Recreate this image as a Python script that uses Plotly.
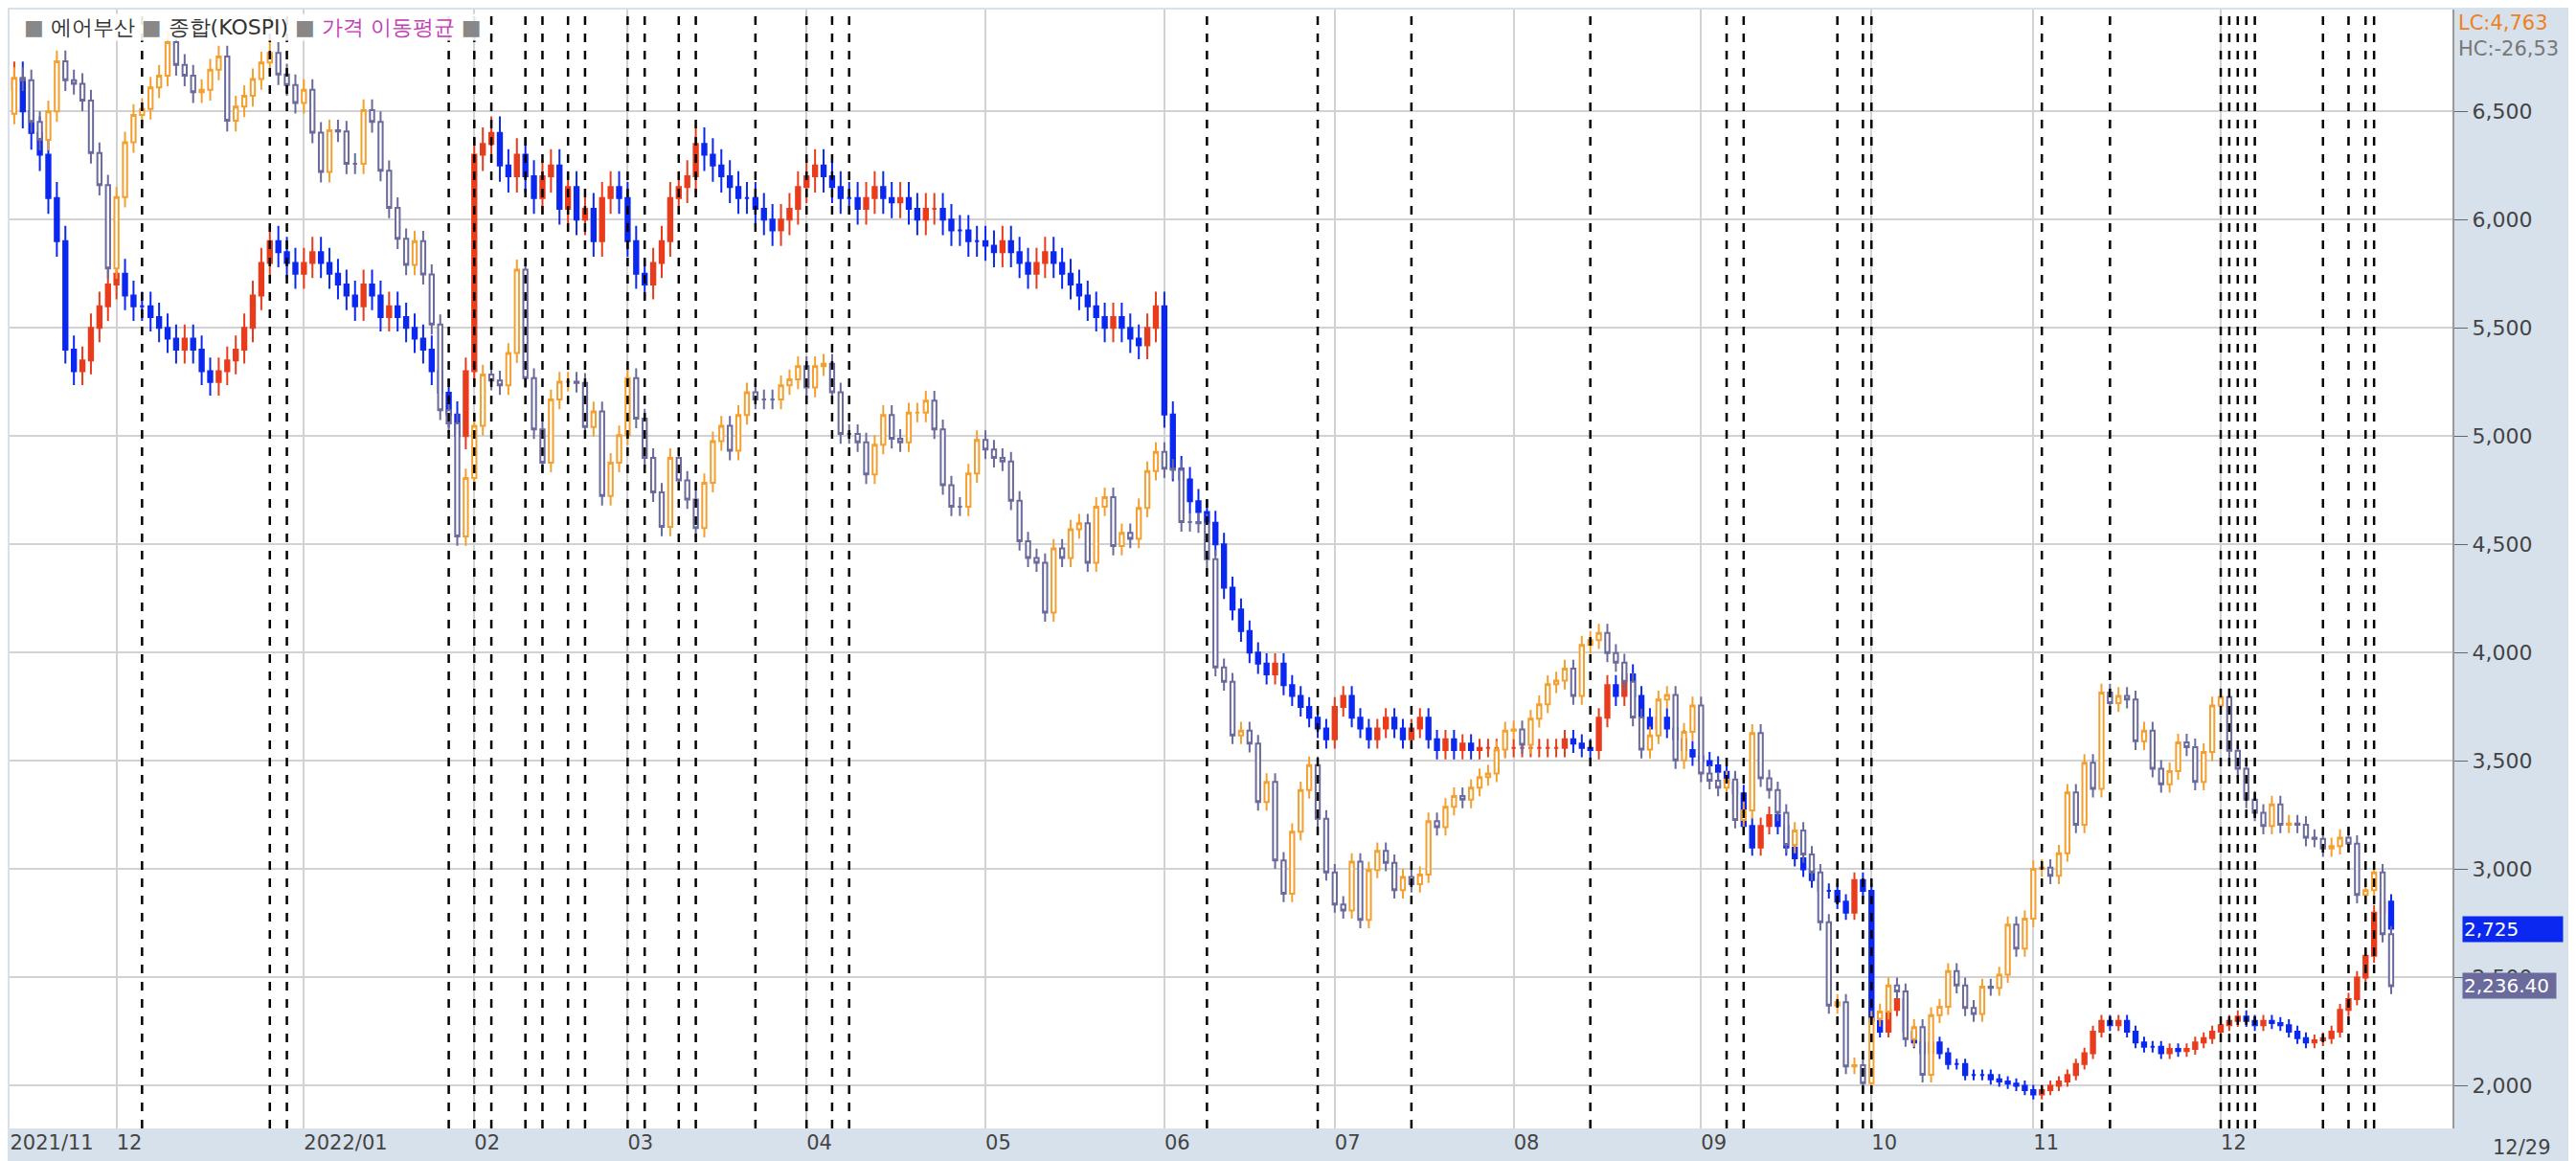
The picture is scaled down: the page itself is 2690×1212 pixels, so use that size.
import pandas as pd
import plotly.graph_objects as go

# Air Busan daily closes (won), weekly rows (holiday slots dropped below)
ab_close = [6600,
 6650,6500,6400,6300,6100, 5900,5400,5300,5350,5500, 5600,5700,5750,5650,5600,
 5600,5550,5500,5450,5400, 5450,5400,5300,5250,5300, 5350,5400,5500,5650,5800,
 5900,5850,5800,5750,5700, 5800,5850,5800,5750,5700, 5650,5600,5700,5650,5550,
 5600,5550,5500,5450,5400, 5300,5200,5100,5000,5300, 5350,5450,5900,6300,6350,
 6400,6250,6200,6300,6200, 6100,6200,6250,6050,6150, 6000,6050,5900,6100,6150,
 6100,6000,5900,5750,5700, 5800,5900,6000,6100,6150, 6200,6350,6300,6250,6200,
 6150,6100,6100,6050,6000, 5950,6000,6050,6150,6200, 6250,6200,6150,6100,6100,
 6050,6100,6150,6100,6080, 6100,6050,6000,6050,6050, 6000,5950,5950,5900,5900,
 5880,5850,5900,5850,5850, 5800,5750,5800,5850,5800, 5750,5700,5650,5600,5550,
 5500,5550,5500,5450,5420, 5500,5600,5700,5100,5000, 4850,4800,4700,4650,4600,
 4500,4300,4200,4100,4000, 3950,3900,3950,3850,3800, 3750,3700,3650,3600,3750,
 3800,3700,3650,3600,3650, 3700,3650,3600,3650,3700, 3600,3550,3600,3550,3580,
 3550,3560,3560,3560,3560, 3560,3560,3560,3560,3560, 3560,3600,3580,3560,3550,
 3600,3700,3850,3800,3900, 3800,3700,3650,3700,3650, 3600,3550,3520,3500,3480,
 3450,3400,3350,3200,3100, 3150,3100,3200,3250,3200, 3100,3050,3000,2950,2900,
 2900,2850,2800,2950,2900, 2350,2300,2250,2350,2400, 2300,2250,2200,2150,2200,
 2150,2100,2100,2050,2050, 2050,2030,2020,2010,2000, 1980,1960,1980,2000,2020,
 2050,2100,2150,2250,2300, 2280,2300,2250,2200,2180, 2180,2150,2170,2160,2170,
 2200,2220,2250,2280,2300, 2320,2300,2280,2300,2290, 2280,2250,2220,2200,2210,
 2220,2250,2350,2400,2500, 2600,2800,2850,2725]

# KOSPI daily closes
ks_close = [2969,
 2999,2997,2962,2947,2971, 3013,2997,2994,2980,2936, 2909,2839,2899,2945,2968,
 2973,2991,3001,3029,3010, 3001,2987,2989,3006,3017, 2963,2975,2984,2998,3012,
 3020,3002,2993,2978,2977, 2989,2953,2920,2955,2954, 2927,2927,2972,2962,2921,
 2890,2864,2842,2862,2834, 2792,2720,2709,2614,2663, 2663,2663,2663,2707,2750,
 2745,2741,2768,2838,2747, 2704,2676,2729,2744,2744, 2743,2706,2719,2648,2676,
 2699,2703,2747,2713,2680, 2651,2622,2645,2680,2661, 2645,2621,2659,2694,2707,
 2686,2716,2735,2729,2729, 2729,2741,2746,2757,2739, 2757,2759,2735,2700,2700,
 2693,2666,2691,2716,2696, 2693,2718,2718,2728,2704, 2657,2639,2639,2667,2695,
 2687,2680,2677,2644,2644, 2610,2596,2592,2550,2604, 2596,2620,2625,2592,2639,
 2647,2606,2617,2612,2638, 2669,2685,2658,2671,2670, 2670,2626,2626,2625,2595,
 2504,2492,2447,2451,2440, 2391,2408,2342,2314,2366, 2401,2422,2377,2332,2305,
 2300,2341,2292,2334,2350, 2340,2317,2328,2322,2330, 2375,2370,2387,2396,2393,
 2403,2412,2415,2435,2451, 2452,2439,2461,2473,2490, 2493,2503,2480,2523,2527,
 2527,2533,2516,2508,2492, 2462,2435,2447,2477,2481, 2426,2450,2472,2415,2409,
 2403,2410,2376,2384,2384, 2384,2449,2411,2401,2382, 2355,2367,2347,2332,2290,
 2220,2223,2169,2170,2155, 2155,2209,2215,2237,2232, 2232,2192,2202,2162,2212,
 2219,2249,2237,2218,2213, 2236,2235,2246,2288,2268, 2293,2335,2336,2329,2348,
 2399,2372,2424,2402,2483, 2474,2480,2477,2442,2451, 2419,2406,2417,2441,2437,
 2408,2433,2472,2479,2434, 2419,2393,2382,2371,2389, 2372,2373,2372,2361,2360,
 2352,2354,2361,2356,2313, 2317,2332,2280,2236.4]

holidays = ["2021-12-31", "2022-01-31", "2022-02-01", "2022-02-02", "2022-03-01", "2022-03-09",
            "2022-05-05", "2022-06-01", "2022-06-03", "2022-08-15", "2022-09-09", "2022-09-12",
            "2022-10-03", "2022-10-10"]
month_ticks = ["2021/11", "12", "2022/01", "02", "03", "04", "05", "06", "07", "08", "09", "10", "11", "12"]
event_days = [16,31,33,52,55,57,61,63,66,68,73,75,79,81,88,94,97,99,141,154,165,186,
              202,204,215,218,219,239,247,260,261,262,263,264,272,275,277,278]

all_days = pd.bdate_range("2021-11-12", "2022-12-29")
all_days = all_days[-len(ab_close):]
hol = set(pd.to_datetime(holidays))
keep = [i for i, d in enumerate(all_days) if d not in hol]
dates = [all_days[i] for i in keep]
ab_c = [ab_close[i] for i in keep]
ks_c = [ks_close[i] for i in keep]
idx = list(range(len(ab_c)))

def ohlc(c, w):
    o = [c[0]] + c[:-1]
    h = [max(a, b) * (1 + w) for a, b in zip(o, c)]
    l = [min(a, b) * (1 - w) for a, b in zip(o, c)]
    return o, h, l

ab_o, ab_h, ab_l = ohlc(ab_c, 0.012)
ks_o, ks_h, ks_l = ohlc(ks_c, 0.003)

mvals, seen = [], set()
for i, d in enumerate(dates):
    k = (d.year, d.month)
    if k not in seen:
        seen.add(k); mvals.append(i)
mvals[0] = 0.5

fig = go.Figure()
fig.add_trace(go.Candlestick(x=idx, open=ks_o, high=ks_h, low=ks_l, close=ks_c, yaxis="y2",
    increasing=dict(line=dict(color="#f4a030", width=2), fillcolor="white"),
    decreasing=dict(line=dict(color="#6a6a9c", width=2), fillcolor="white"),
    whiskerwidth=0, showlegend=False, hoverinfo="skip"))
fig.add_trace(go.Candlestick(x=idx, open=ab_o, high=ab_h, low=ab_l, close=ab_c,
    increasing=dict(line=dict(color="#e83c1c", width=2), fillcolor="#e83c1c"),
    decreasing=dict(line=dict(color="#0a28f0", width=2), fillcolor="#0a28f0"),
    whiskerwidth=0, showlegend=False, hoverinfo="skip"))

for d in event_days:
    fig.add_vline(x=d, line=dict(color="black", width=2.5, dash="dash"), layer="above")

Y1 = [1803, 6970]
k0, a0, s = 2236.4, 2460, 5.5
Y2 = [k0 + (Y1[0] - a0) / s, k0 + (Y1[1] - a0) / s]

fig.update_layout(
    width=2690, height=1212, margin=dict(l=2, r=137, t=2, b=42),
    paper_bgcolor="#d7e1ec", plot_bgcolor="white",
    font=dict(family="DejaVu Sans", color="#444", size=20),
    xaxis=dict(range=[0.45, 287.2], tickmode="array", tickvals=mvals, ticktext=month_ticks,
               showgrid=True, gridcolor="#d2d2d2", gridwidth=2, rangeslider=dict(visible=False),
               ticks="", ticklabelposition="outside right", zeroline=False,
               tickfont=dict(size=21, color="#444"), showline=False),
    yaxis=dict(range=Y1, side="right", tickvals=list(range(2000, 7000, 500)),
               tickformat=",", showgrid=True, gridcolor="#d2d2d2", gridwidth=2,
               ticks="outside", ticklen=14, tickcolor="#666", zeroline=False,
               tickfont=dict(size=22, color="#444"), showline=True, linecolor="#999", linewidth=2),
    yaxis2=dict(range=Y2, overlaying="y", visible=False),
    annotations=[
        dict(x=0.005, y=0.997, xref="paper", yref="paper", xanchor="left", yanchor="top",
             text="<span style='color:#888'>■</span> 에어부산 <span style='color:#888'>■</span> 종합(KOSPI) "
                  "<span style='color:#888'>■</span> <span style='color:#c43cb4'>가격 이동평균</span> <span style='color:#888'>■</span>",
             showarrow=False, font=dict(size=22, color="#333"), bgcolor="rgba(255,255,255,0.9)"),
        dict(x=1.0, y=1.0, xref="paper", yref="paper", xanchor="left", yanchor="top", xshift=4,
             text="<span style='color:#f08020'>LC:4,763</span><br>HC:-26,53", showarrow=False, align="left",
             font=dict(size=21, color="#777")),
        dict(x=1.0, y=2725, xref="paper", yref="y", xanchor="left", xshift=10, text="2,725       ",
             showarrow=False, bgcolor="#0a28f0", font=dict(color="white", size=20), align="left"),
        dict(x=1.0, y=2236.4, xref="paper", yref="y2", xanchor="left", xshift=10, text="2,236.40 ",
             showarrow=False, bgcolor="#6a6a9c", font=dict(color="white", size=20), align="left"),
        dict(x=1.0, y=0, xref="paper", yref="paper", xanchor="left", yanchor="top", xshift=40, yshift=-6,
             text="12/29", showarrow=False, font=dict(size=21, color="#444")),
    ],
)
fig.write_html("out.html")
